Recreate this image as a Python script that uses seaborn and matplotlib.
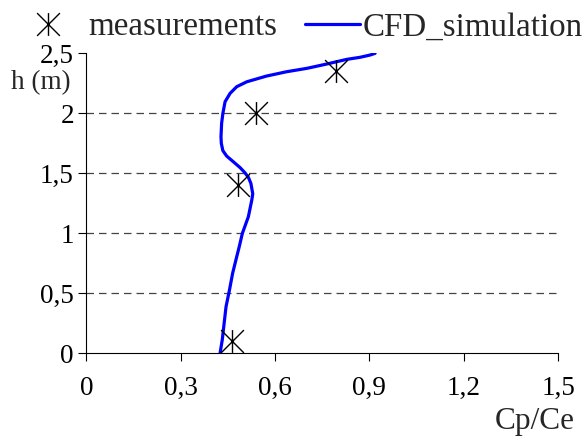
import numpy as np
import pandas as pd
import matplotlib
matplotlib.use("Agg")
import matplotlib.pyplot as plt
from matplotlib.path import Path
from matplotlib.lines import Line2D
import seaborn as sns

# Data
meas_x = [0.462, 0.483, 0.539, 0.793]
meas_h = [0.10, 1.405, 2.00, 2.35]

cfd_x = [0.425, 0.432, 0.438, 0.444, 0.455, 0.465, 0.478, 0.486, 0.496, 0.515,
         0.526, 0.529, 0.523, 0.515, 0.504, 0.489, 0.467, 0.446, 0.434, 0.429,
         0.428, 0.430, 0.434, 0.441, 0.457, 0.478, 0.510, 0.573, 0.637, 0.701,
         0.764, 0.828, 0.870, 0.902, 0.918]
cfd_h = [0.0, 0.111, 0.25, 0.388, 0.528, 0.667, 0.805, 0.888, 1.0, 1.138,
         1.278, 1.33, 1.417, 1.467, 1.505, 1.547, 1.597, 1.644, 1.689, 1.75,
         1.805, 1.917, 2.0, 2.097, 2.167, 2.222, 2.263, 2.311, 2.347, 2.375,
         2.411, 2.45, 2.467, 2.486, 2.5]

xticks = [0, 0.3, 0.6, 0.9, 1.2, 1.5]
xticklabels = ["0", "0,3", "0,6", "0,9", "1,2", "1,5"]
yticks = [0, 0.5, 1, 1.5, 2, 2.5]
yticklabels = ["0", "0,5", "1", "1,5", "2", "2,5"]

sns.set_theme(style="white")
plt.rcParams['font.family'] = ['Liberation Serif', 'DejaVu Serif']

fig = plt.figure(figsize=(5.85, 4.41), dpi=100)
ax = fig.add_axes([0.1477, 0.1989, 0.954 - 0.1477, 0.879 - 0.1989])

star = Path([(0, -1), (0, 1), (-1, -1), (1, 1), (-1, 1), (1, -1)],
            [Path.MOVETO, Path.LINETO, Path.MOVETO, Path.LINETO, Path.MOVETO, Path.LINETO])

for g in [0.5, 1, 1.5, 2]:
    ax.axhline(g, color="#444444", lw=0.9, ls=(0, (6, 4)), zorder=0)

dfm = pd.DataFrame({"x": meas_x, "h": meas_h})
dfc = pd.DataFrame({"x": cfd_x, "h": cfd_h})

sns.lineplot(data=dfc, x="x", y="h", sort=False, orient="y", color="#0000ff",
             lw=2.3, ax=ax, legend=False, zorder=3)
sns.scatterplot(data=dfm, x="x", y="h", marker=star, s=270, color="black",
                edgecolor="black", linewidth=1.0, ax=ax, legend=False, zorder=4)

ax.set_xlim(0, 1.5)
ax.set_ylim(0, 2.5)
ax.set_xticks(xticks)
ax.set_xticklabels(xticklabels)
ax.set_yticks(yticks)
ax.set_yticklabels(yticklabels)
ax.tick_params(axis="x", direction="out", length=6, width=0.8, pad=10, labelsize=19.5, colors="black")
ax.tick_params(axis="y", direction="out", length=6, width=0.8, pad=3, labelsize=19.5, colors="black")
ax.tick_params(left=True, bottom=True)
for s in ["top", "right"]:
    ax.spines[s].set_visible(False)
for s in ["left", "bottom"]:
    ax.spines[s].set_color("black")
    ax.spines[s].set_linewidth(0.8)
ax.set_xlabel("")
ax.set_ylabel("")

fig.text(575 / 585, 1 - 421 / 441, "Cp/Ce", ha="right", va="center", fontsize=22.5)
fig.text(71 / 585, 1 - 83 / 441, "h (m)", ha="right", va="center", fontsize=19.5)

h1 = Line2D([], [], ls="none", marker=star, markersize=16.4, color="black",
            markeredgewidth=1.0)
h2 = Line2D([], [], color="#0000ff", lw=2.3)
leg1 = fig.legend([h1], ["measurements"], loc="center left",
                  bbox_to_anchor=(20 / 585, 1 - 27 / 441), frameon=False, fontsize=23.8,
                  handlelength=1.67, handletextpad=0.4, borderpad=0, borderaxespad=0)
leg2 = fig.legend([h2], ["CFD_simulation"], loc="center left",
                  bbox_to_anchor=(305 / 585, 1 - 27 / 441), frameon=False, fontsize=23.8,
                  handlelength=1.67, handletextpad=0.06, borderpad=0, borderaxespad=0)

fig.savefig("out.png", dpi=100)
